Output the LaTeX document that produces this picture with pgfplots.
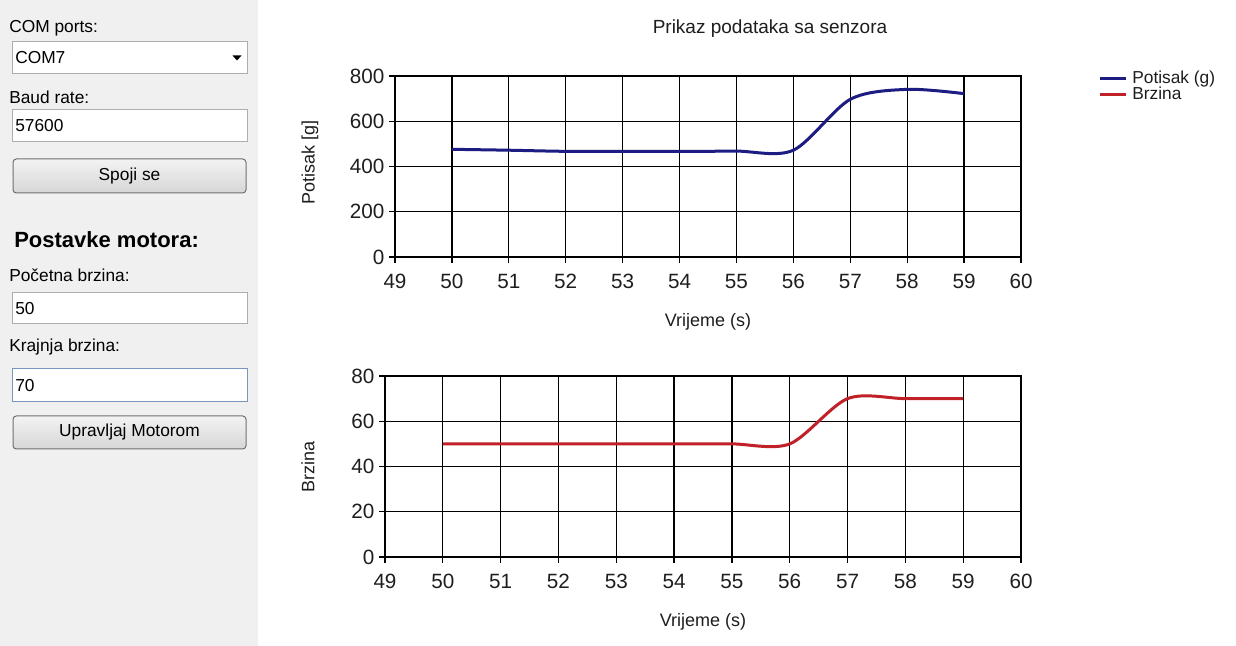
\documentclass[border=0pt]{standalone}
\usepackage{fontspec}
\setmainfont{Liberation Sans}
\usepackage{pgfplots}
\pgfplotsset{compat=1.18}
\definecolor{panelgray}{RGB}{240,240,240}
\definecolor{navyline}{RGB}{28,28,130}
\definecolor{redline}{RGB}{192,32,40}
\definecolor{boxborder}{RGB}{171,173,179}
\definecolor{btnborder}{RGB}{112,112,112}
\definecolor{btntop}{RGB}{243,243,243}
\definecolor{btnbot}{RGB}{214,214,214}
\definecolor{focusborder}{RGB}{120,150,190}
\definecolor{charttext}{RGB}{30,30,30}

\pgfplotsset{
  chartstyle/.style={
    scale only axis, anchor=south west,
    xmin=49, xmax=60, xtick={49,...,60}, ymin=0,
    grid=major, major grid style={black, line width=1pt},
    axis line style={black, line width=1pt},
    tick style={black, line width=1pt},
    tick align=outside, tick pos=left, major tick length=4.5pt,
    /pgf/number format/assume math mode=true,
    tick label style={font=\fontsize{15.5}{18}\selectfont, text=charttext},
    xticklabel style={yshift=-5pt},
    every axis x label/.style={at={(axis description cs:0.5,0)}, anchor=center, yshift=-48.5pt,
      font=\fontsize{13.5}{16}\selectfont, text=charttext},
  }
}

\begin{document}
\begin{tikzpicture}
\useasboundingbox (0,0) rectangle (927pt,484.5pt);
\begin{scope}[x=0.75pt,y=0.75pt]
\fill[white] (0,0) rectangle (1236,646);
\fill[panelgray] (0,0) rectangle (258,646);
\tikzset{ui/.style={font=\fontsize{13}{15}\selectfont, inner sep=0pt, anchor=west, text=black}}
% COM ports
\node[ui] at (9,618) {COM ports:};
\filldraw[fill=white, draw=boxborder, line width=0.75pt] (12,604) rectangle (247,572);
\node[ui] at (15,588) {COM7};
\fill[black] (232.5,590.5) -- (241.5,590.5) -- (237,585.5) -- cycle;
% Baud rate
\node[ui] at (9,549) {Baud rate:};
\filldraw[fill=white, draw=boxborder, line width=0.75pt] (12,536) rectangle (247,504);
\node[ui] at (15,520) {57600};
% Spoji se
\shadedraw[top color=btntop, bottom color=btnbot, draw=btnborder, rounded corners=2.5pt, line width=0.75pt] (13,487) rectangle (246,453);
\node[ui, anchor=center] at (129.5,470) {Spoji se};
% Postavke motora
\node[ui, font=\fontsize{16.5}{19}\selectfont\bfseries] at (14,406) {Postavke motora:};
\node[ui] at (9,371) {Početna brzina:};
\filldraw[fill=white, draw=boxborder, line width=0.75pt] (12,353) rectangle (247,322);
\node[ui] at (15,337.5) {50};
\node[ui] at (9,299) {Krajnja brzina:};
\filldraw[fill=white, draw=focusborder, line width=0.75pt] (12,277) rectangle (247,244);
\node[ui] at (15,260.5) {70};
\shadedraw[top color=btntop, bottom color=btnbot, draw=btnborder, rounded corners=2.5pt, line width=0.75pt] (13,230) rectangle (246,197);
\node[ui, anchor=center] at (129.5,213.5) {Upravljaj Motorom};
% title
\node[font=\fontsize{14.25}{17}\selectfont, text=charttext] at (770,617) {Prikaz podataka sa senzora};
\end{scope}

% top chart
\begin{axis}[chartstyle,
  at={(296.25pt,291.75pt)}, width=469.5pt, height=135.75pt,
  ymax=800, ytick={0,200,...,800},
  xlabel={Vrijeme (s)}, ylabel={Potisak [g]},
  every axis y label/.style={at={(axis description cs:-0.136,0.52)}, anchor=center, rotate=90,
    font=\fontsize{13.5}{16}\selectfont, text=charttext},
  legend style={draw=none, fill=none, at={(axis description cs:1.1234,1.035)}, anchor=north west,
    font=\fontsize{13}{14}\selectfont, text=charttext, inner sep=0pt, legend cell align=left,
    nodes={inner sep=0.6pt}},
  legend image code/.code={\draw[#1] (0pt,0pt) -- (19.5pt,0pt);},
  /tikz/every odd column/.append style={column sep=3pt},
]
\addplot[navyline, line width=2.25pt, smooth, tension=0.5] coordinates {
(50,476) (51,472) (52,467) (53,467) (54,467) (55,468) (56,472) (57,697) (58,741) (59,722)};
\addlegendentry{Potisak (g)}
\addlegendimage{redline, line width=2.25pt}
\addlegendentry{Brzina}
\end{axis}

% bottom chart
\begin{axis}[chartstyle,
  at={(288.75pt,66.75pt)}, width=477pt, height=135.75pt,
  ymax=80, ytick={0,20,...,80},
  xlabel={Vrijeme (s)}, ylabel={Brzina},
  every axis y label/.style={at={(axis description cs:-0.121,0.5)}, anchor=center, rotate=90,
    font=\fontsize{13.5}{16}\selectfont, text=charttext},
]
\addplot[redline, line width=2.25pt, smooth, tension=0.5] coordinates {
(50,50) (51,50) (52,50) (53,50) (54,50) (55,50) (56,50) (57,70) (58,70) (59,70)};
\end{axis}
\end{tikzpicture}
\end{document}
